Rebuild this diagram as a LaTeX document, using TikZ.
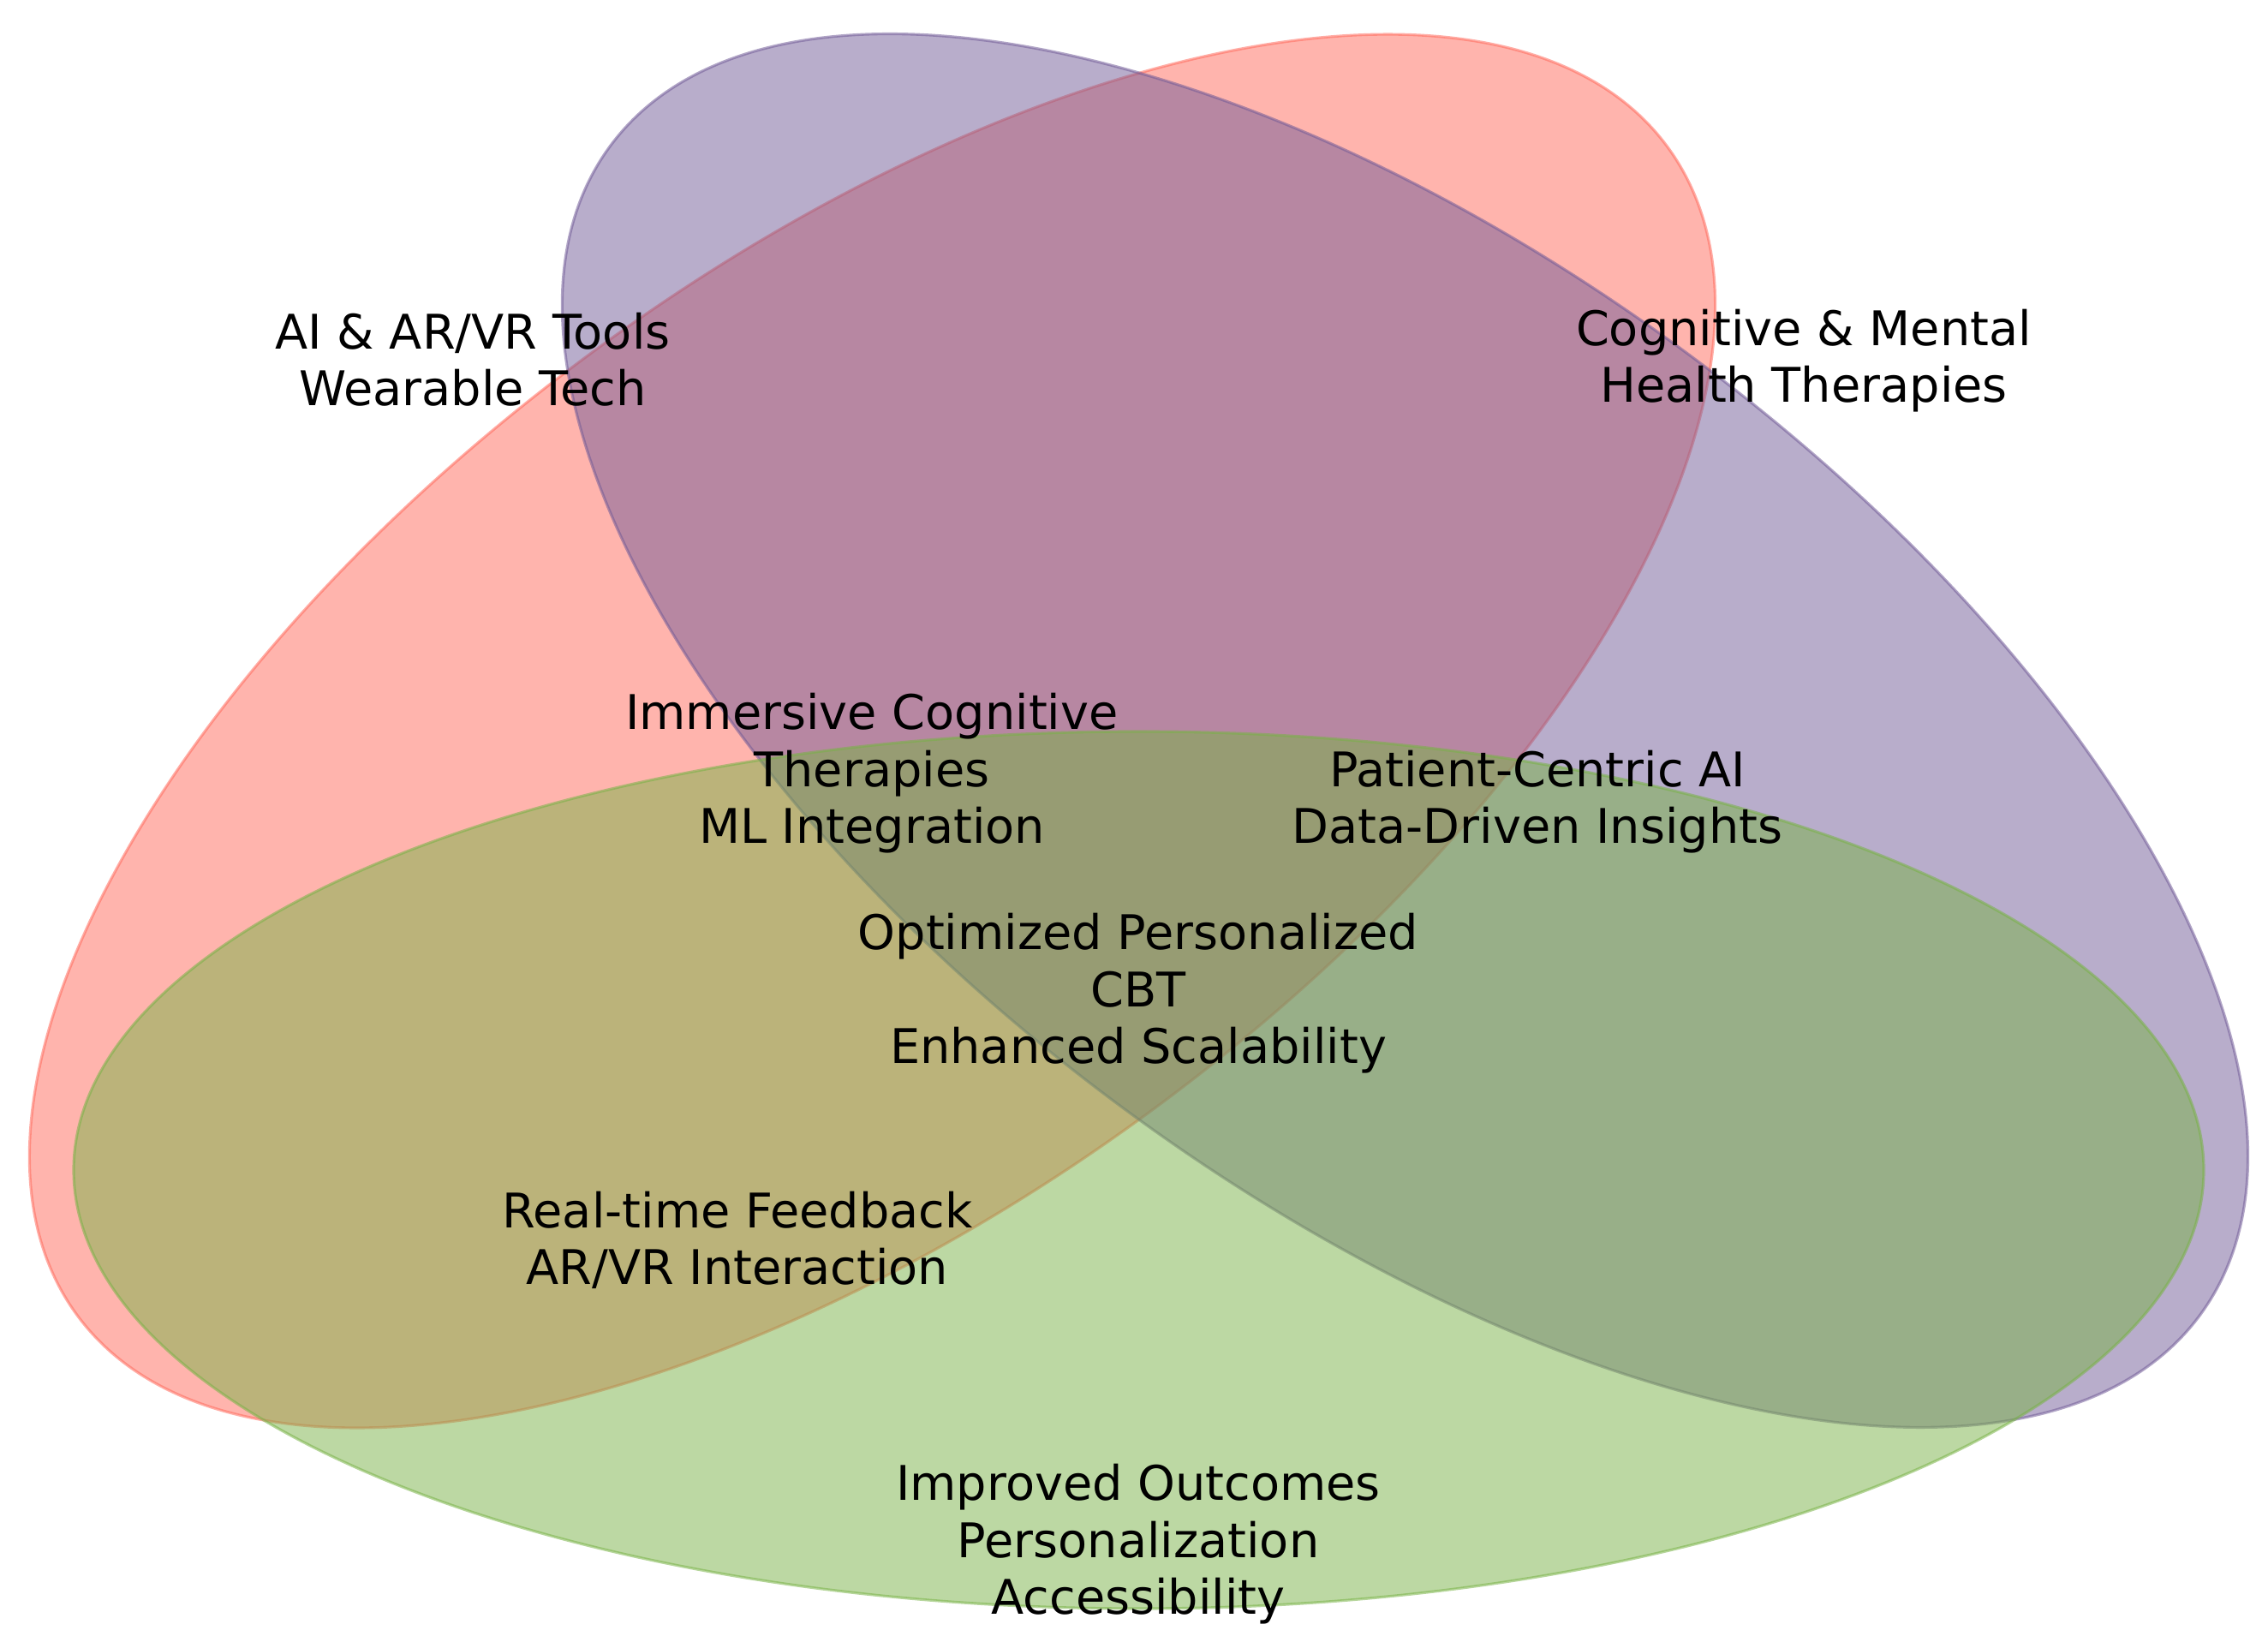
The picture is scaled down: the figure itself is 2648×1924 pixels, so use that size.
\documentclass[tikz,border=0pt]{standalone}
\usepackage{fontspec}
\setmainfont{DejaVu Sans}
\usetikzlibrary{positioning}
\definecolor{setcoral}{HTML}{FF6A5C}
\definecolor{setviolet}{HTML}{715B97}
\definecolor{setgreen}{HTML}{79B247}

\begin{document}
\begin{tikzpicture}[x=0.01cm, y=0.01cm,
    set/.style={fill=#1, draw=#1, fill opacity=0.5, draw opacity=0.55, line width=0.9pt},
    lbl/.style={align=center, inner sep=0pt, font=\fontsize{15.85}{18.9}\selectfont}]
    \useasboundingbox (0,0) rectangle (2648,1924);
    \coordinate (ctech) at (1018.5,1070.5);
    \coordinate (ctherapy) at (1640.5,1071);
    \coordinate (coutcome) at (1329.5,558);
    % the three sets
    \draw[set=setcoral, rotate around={36.3:(ctech)}] (ctech) ellipse [x radius=1152, y radius=550];
    \draw[set=setviolet, rotate around={-36.3:(ctherapy)}] (ctherapy) ellipse [x radius=1152, y radius=550];
    \draw[set=setgreen] (coutcome) ellipse [x radius=1243.5, y radius=512];
    % labels
    \node[lbl] (tech) at (552,1504) {AI \& AR/VR Tools\\Wearable Tech};
    \node[lbl] (therapy) at (2106,1503) {Cognitive \& Mental\\Health Therapies};
    \node[lbl] (immersive) at (1018,1021) {Immersive Cognitive\\Therapies\\ML Integration};
    \node[lbl] (patient) at (1795,988) {Patient-Centric AI\\Data-Driven Insights};
    \node[lbl] (core) at (1329,764) {Optimized Personalized\\CBT\\Enhanced Scalability};
    \node[lbl] (feedback) at (861,476) {Real-time Feedback\\AR/VR Interaction};
    \node[lbl] (outcome) at (1329,121) {Improved Outcomes\\Personalization\\Accessibility};
\end{tikzpicture}
\end{document}
